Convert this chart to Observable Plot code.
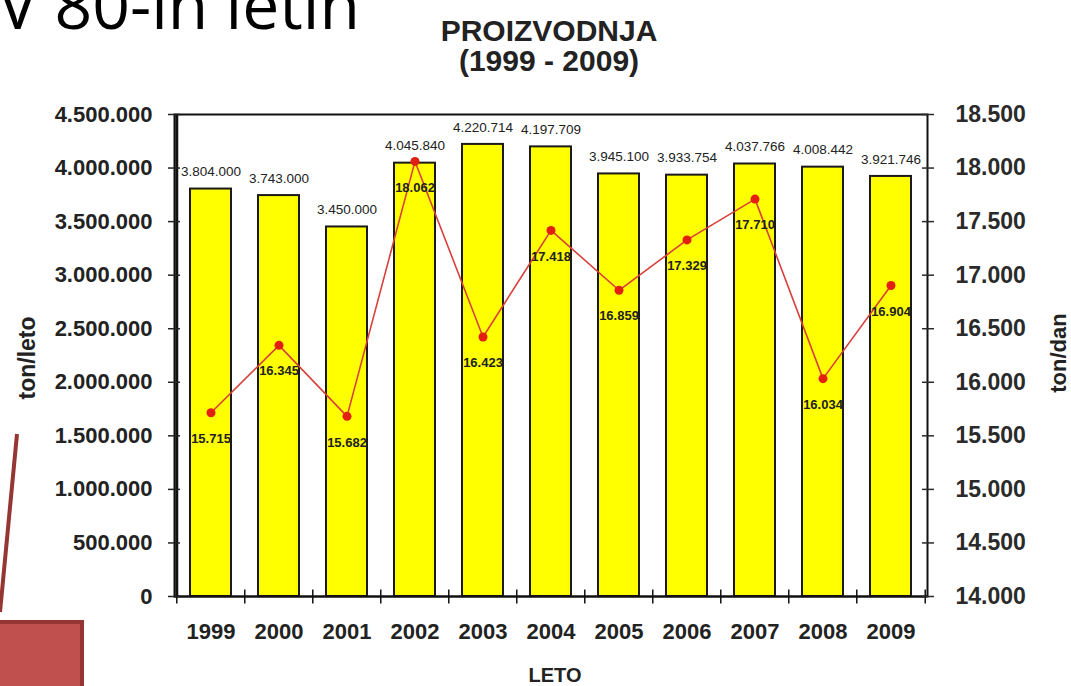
<!DOCTYPE html>
<html>
<head>
<meta charset="utf-8">
<script src="https://cdn.jsdelivr.net/npm/d3@7"></script>
<script src="https://cdn.jsdelivr.net/npm/@observablehq/plot@0.6"></script>
<style>
  html, body { margin: 0; padding: 0; background: #ffffff; }
  #wrap { position: relative; width: 1071px; height: 686px; overflow: hidden; background: #fff; }
  #chart { position: absolute; left: 0; top: 0; }
  #overlay { position: absolute; left: 0; top: 0; pointer-events: none; }
</style>
</head>
<body>
<div id="wrap">
  <div id="chart"></div>
  <svg id="overlay" width="1071" height="686" font-family="Liberation Sans, Arial, sans-serif">
    <text x="-2" y="29" font-family="Open Sans, sans-serif" font-size="66" fill="#000">V 80-ih letih</text>
    <text x="549" y="41" text-anchor="middle" font-size="30" font-weight="bold" fill="#222">PROIZVODNJA</text>
    <text x="549" y="71" text-anchor="middle" font-size="30" font-weight="bold" fill="#222">(1999 - 2009)</text>
    <text transform="translate(35,358) rotate(-90)" text-anchor="middle" font-size="23" font-weight="bold" fill="#222">ton/leto</text>
    <text transform="translate(1066,353) rotate(-90)" text-anchor="middle" font-size="22" font-weight="bold" fill="#222">ton/dan</text>
    <text x="555" y="682" text-anchor="middle" font-size="20" font-weight="bold" fill="#222">LETO</text>
    <line x1="17" y1="434" x2="0" y2="612" stroke="#963634" stroke-width="4"/>
    <rect x="-4" y="622" width="86" height="70" fill="#c0504d" stroke="#963634" stroke-width="4"/>
  </svg>
</div>
<script>
// ---- data ----
const years = ["1999","2000","2001","2002","2003","2004","2005","2006","2007","2008","2009"];
const productionPerYear = [3804000, 3743000, 3450000, 4045840, 4220714, 4197709, 3945100, 3933754, 4037766, 4008442, 3921746];
const productionPerDay = [15715, 16345, 15682, 18062, 16423, 17418, 16859, 17329, 17710, 16034, 16904];
const leftTicks = [0, 500000, 1000000, 1500000, 2000000, 2500000, 3000000, 3500000, 4000000, 4500000];
const rightTicks = [14000, 14500, 15000, 15500, 16000, 16500, 17000, 17500, 18000, 18500];

// ---- helpers ----
const loc = d3.formatLocale({decimal: ",", thousands: ".", grouping: [3], currency: ["", ""]});
const fmt = loc.format(",");
const rightMin = 14000, rightMax = 18500, leftMax = 4500000;
const toLeft = v => (v - rightMin) / (rightMax - rightMin) * leftMax;
const fromLeft = v => rightMin + v / leftMax * (rightMax - rightMin);

const rows = years.map((y, i) => ({year: y, prod: productionPerYear[i], day: productionPerDay[i]}));

const W = 1071, H = 686;
const mL = 174, mR = 144, mT = 114, mB = 90;
const step = (W - mL - mR) / years.length;

const chart = Plot.plot({
  width: W,
  height: H,
  marginLeft: mL,
  marginRight: mR,
  marginTop: mT,
  marginBottom: mB,
  style: {fontFamily: "Liberation Sans, Arial, sans-serif", background: "transparent", overflow: "visible"},
  x: {domain: years, paddingInner: 0.4, paddingOuter: 0.2},
  y: {domain: [0, leftMax]},
  marks: [
    Plot.barY(rows, {x: "year", y: "prod", fill: "#ffff00", stroke: "#1a1a1a", strokeWidth: 2}),
    Plot.frame({stroke: "#111", strokeWidth: 2}),
    Plot.ruleX(years.slice(0, 1), {x: d => d, dx: -step / 2, stroke: "#111", strokeWidth: 3}),
    Plot.ruleY([0], {stroke: "#111", strokeWidth: 2, dx: 0}),
    Plot.ruleX(years, {x: d => d, y1: -70000, y2: 60000, dx: -step / 2, stroke: "#111", strokeWidth: 1.5}),
    Plot.ruleX(years.slice(-1), {x: d => d, y1: -70000, y2: 60000, dx: step / 2, stroke: "#111", strokeWidth: 1.5}),
    Plot.lineY(rows, {x: "year", y: d => toLeft(d.day), stroke: "#d8403a", strokeWidth: 1.6}),
    Plot.dot(rows, {x: "year", y: d => toLeft(d.day), r: 4.5, fill: "#e3200f", stroke: null}),
    Plot.text(rows, {x: "year", y: "prod", text: d => fmt(d.prod), dy: -17, fontSize: 13.5, fill: "#222"}),
    Plot.text(rows, {x: "year", y: d => toLeft(d.day), text: d => fmt(d.day), dy: 26, fontSize: 13, fontWeight: "bold", fill: "#222"}),
    Plot.axisY(leftTicks, {anchor: "left", tickSize: 12, dx: 6, tickPadding: 16, tickFormat: fmt, fontSize: 22, fontWeight: "bold", color: "#222", strokeWidth: 1.5, label: null}),
    Plot.axisY(rightTicks.map(toLeft), {anchor: "right", tickSize: 12, dx: -6, tickPadding: 22, tickFormat: d => fmt(Math.round(fromLeft(d))), fontSize: 23, fontWeight: "bold", color: "#2a2a2a", strokeWidth: 1.5, label: null}),
    Plot.axisX({tickSize: 0, tickPadding: 27, fontSize: 22, fontWeight: "bold", color: "#222", label: null})
  ]
});
document.getElementById("chart").appendChild(chart);
</script>
</body>
</html>
